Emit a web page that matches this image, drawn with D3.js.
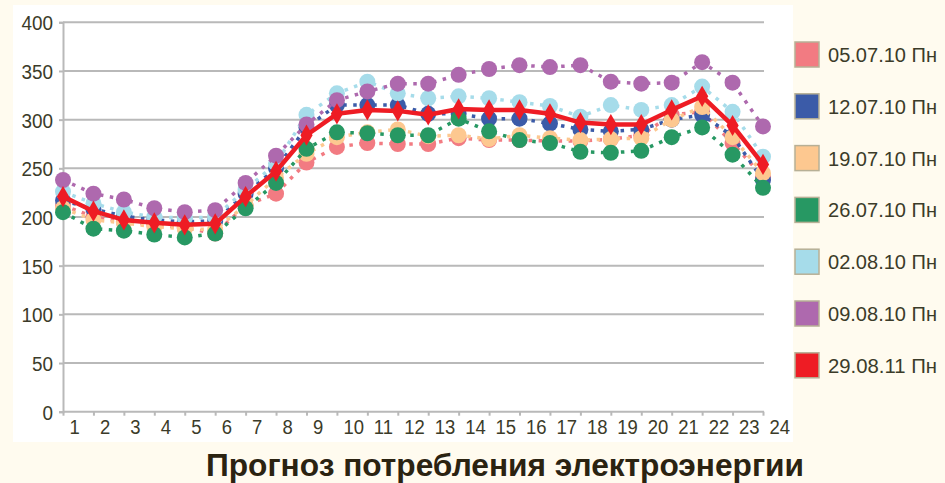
<!DOCTYPE html>
<html><head><meta charset="utf-8">
<script src="https://cdn.jsdelivr.net/npm/d3@7"></script>
<style>
html,body{margin:0;padding:0;background:#fffbef;}
svg{display:block;}
</style></head>
<body>
<svg id="chart" width="945" height="483"></svg>
<script>
const hours = d3.range(1, 25);
const yTicks = [0, 50, 100, 150, 200, 250, 300, 350, 400];
const seriesNames = ["05.07.10 Пн","12.07.10 Пн","19.07.10 Пн","26.07.10 Пн","02.08.10 Пн","09.08.10 Пн","29.08.11 Пн"];
const seriesColors = ["#f27b82","#3b5ba8","#fdc890","#279863","#a6dcea","#ae69ae","#ee1c24"];
const s0507 = [212,200,195,192,189,183,212,224,256,272,276,275,275,281,279,279,278,278,280,284,305,308,276,241];
const s1207 = [217,208,201,197,195,196,224,250,292,315,315,315,306,306,301,301,296,290,288,290,300,305,283,238];
const s1907 = [209,197,194,190,188,187,212,240,265,282,287,290,283,284,280,284,281,279,280,281,300,313,282,245];
const s2607 = [205,188,186,182,179,183,209,235,270,287,286,284,284,301,288,279,276,267,266,268,282,292,264,230];
const s0208 = [226,214,205,200,199,200,228,255,305,327,339,327,322,324,322,318,314,303,315,310,315,334,308,262];
const s0908 = [238,224,218,209,205,207,235,263,295,320,329,337,337,346,352,356,354,356,339,337,338,359,338,293];
const s2908 = [221,206,197,194,192,193,221,247,284,306,310,309,305,311,310,310,306,297,295,295,310,324,294,254];
const seriesValues = [s0507,s1207,s1907,s2607,s0208,s0908,s2908];
const title = "Прогноз потребления электроэнергии";

const svg = d3.select("#chart");
svg.append("rect").attr("width",945).attr("height",483).attr("fill","#fffbef");
svg.append("rect").attr("x",13).attr("y",5).attr("width",780).attr("height",437).attr("fill","#ffffff");

const x = d3.scalePoint().domain(hours).range([63, 763]);
const y = d3.scaleLinear().domain([0, 400]).range([411.7, 22.3]);

const font = "'Liberation Sans', Arial, sans-serif";
const textColor = "#3b3b29";

// gridlines
svg.append("g").selectAll("line").data(yTicks.filter(d=>d>0)).join("line")
  .attr("x1",63).attr("x2",764).attr("y1",d=>y(d)).attr("y2",d=>y(d))
  .attr("stroke","#b9b9b9").attr("stroke-width",2);

// y axis
const yAxis = svg.append("g").attr("transform","translate(63,0)")
  .call(d3.axisLeft(y).tickValues(yTicks).tickSize(4).tickPadding(7));
yAxis.select(".domain").attr("stroke","#b9b9b9").attr("stroke-width",2);
yAxis.selectAll(".tick line").attr("stroke","#b9b9b9").attr("stroke-width",2);
yAxis.selectAll(".tick text").attr("font-family",font).attr("font-size",21)
  .attr("fill",textColor).attr("transform","scale(0.9,1)").attr("dy","0.36em");

// x axis
const xAxis = svg.append("g").attr("transform","translate(0,411.7)")
  .call(d3.axisBottom(x).tickSize(4).tickSizeOuter(0));
xAxis.select(".domain").attr("stroke","#b9b9b9").attr("stroke-width",2).attr("d","M63,0H764");
xAxis.selectAll(".tick line").attr("stroke","#b9b9b9").attr("stroke-width",2);
xAxis.selectAll(".tick text").attr("font-family",font).attr("font-size",21)
  .attr("fill",textColor).attr("text-anchor","start").attr("x",0).attr("y",0)
  .attr("dy",0).attr("transform","translate(6,22) scale(0.88,1)");

// series
const line = d3.line().x((d,i)=>x(hours[i])).y(d=>y(d));
seriesValues.forEach((vals, k) => {
  const g = svg.append("g");
  const isMain = k === seriesValues.length - 1;
  g.append("path").datum(vals).attr("d", line).attr("fill","none")
    .attr("stroke", seriesColors[k])
    .attr("stroke-width", isMain ? 4.5 : 3.5)
    .attr("stroke-dasharray", isMain ? null : "3.5,6.5")
    .attr("stroke-linejoin","round");
  if (isMain) {
    g.selectAll("path.m").data(vals).join("path").attr("class","m")
      .attr("transform",(d,i)=>`translate(${x(hours[i])},${y(d)})`)
      .attr("d", d3.symbol(d3.symbolDiamond, 130)())
      .attr("fill", seriesColors[k]);
  } else {
    g.selectAll("circle").data(vals).join("circle")
      .attr("cx",(d,i)=>x(hours[i])).attr("cy",d=>y(d)).attr("r",8)
      .attr("fill", seriesColors[k]);
  }
});

// legend
const leg = svg.append("g");
seriesNames.forEach((name, k) => {
  const top = 42 + k * 51.8;
  leg.append("rect").attr("x",795).attr("y",top).attr("width",24).attr("height",25)
    .attr("fill",seriesColors[k]).attr("stroke","#b7b096").attr("stroke-width",1.5);
  leg.append("text").attr("x",828).attr("y",top+20).attr("font-family",font)
    .attr("font-size",20).attr("fill",textColor)
    .attr("textLength",109).attr("lengthAdjust","spacingAndGlyphs").text(name);
});

// title
svg.append("text").attr("x",505).attr("y",476).attr("text-anchor","middle")
  .attr("font-family",font).attr("font-weight","bold").attr("font-size",31)
  .attr("textLength",598).attr("lengthAdjust","spacingAndGlyphs")
  .attr("fill","#2b2311").text(title);
</script>
</body></html>
